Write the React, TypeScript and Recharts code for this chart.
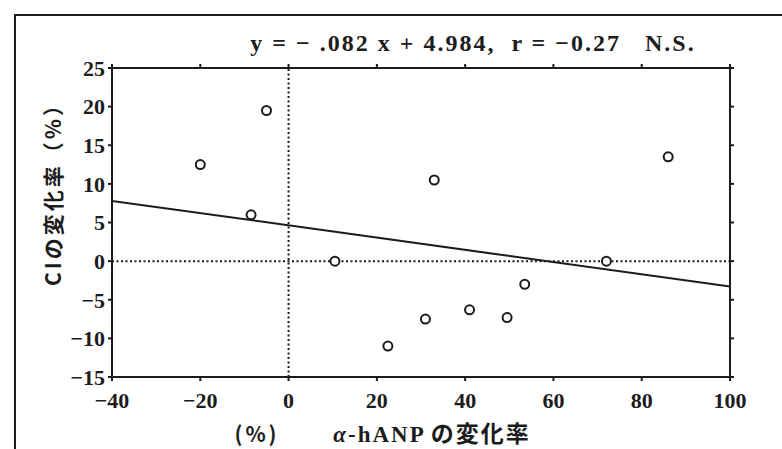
import {
  ReferenceLine,
  Scatter,
  ScatterChart,
  XAxis,
  YAxis,
} from "recharts"

// α-hANP change (%) vs CI change (%)
const anpChange = [-20, -5, -8.5, 10.5, 22.5, 31, 33, 41, 49.5, 53.5, 72, 86]
const ciChange = [12.5, 19.5, 6, 0, -11, -7.5, 10.5, -6.3, -7.3, -3, 0, 13.5]

const xTicks = [-40, -20, 0, 20, 40, 60, 80, 100]
const yTicks = [-15, -10, -5, 0, 5, 10, 15, 20, 25]

// regression line end points as drawn
const fitX = [-40, 100]
const fitY = [7.8, -3.3]

const points = anpChange.map((x, i) => ({ x, y: ciChange[i] }))
const fitLine = fitX.map((x, i) => ({ x, y: fitY[i] }))

const INK = "#1c1c1c"
const NUM_FONT = "'Liberation Serif', 'DejaVu Serif', serif"
const JP_FONT = "'Noto Sans CJK JP', 'Liberation Serif', serif"

function fmt(v: number) {
  return v < 0 ? `\u2212${Math.abs(v)}` : `${v}`
}

function Ring(props: any) {
  const { cx, cy } = props
  if (cx == null || cy == null) return null
  return <circle cx={cx} cy={cy} r={4.5} fill="#fff" stroke={INK} strokeWidth={2} />
}

function NoDot() {
  return null
}

function BlankTick() {
  return <g />
}

function XTitle() {
  return (
    <g>
      <text x={257} y={442} textAnchor="middle" fontFamily={JP_FONT} fontSize={21} fontWeight={700} fill={INK} letterSpacing={3}>
        (%)
      </text>
      <text x={432} y={442} textAnchor="middle" fontFamily={JP_FONT} fontSize={23} fontWeight={700} fill={INK} letterSpacing={2}>
        <tspan fontFamily={NUM_FONT} fontStyle="italic">α</tspan>
        <tspan fontFamily={NUM_FONT}>-hANP</tspan>
        <tspan dx={5}>の変化率</tspan>
      </text>
    </g>
  )
}

function YTitle() {
  return (
    <text
      x={52}
      y={189}
      transform="rotate(-90 52 189)"
      textAnchor="middle"
      dominantBaseline="central"
      fontFamily={JP_FONT}
      fontSize={21}
      fontWeight={700}
      fill={INK}
      letterSpacing={3}
    >
      CIの変化率（%）
    </text>
  )
}

export default function App() {
  const tickStyle = { fontSize: 22, fontWeight: 700, fill: INK, fontFamily: NUM_FONT }
  return (
    <div style={{ position: "relative", width: 782, height: 449, background: "#fff" }}>
      <style>{"body{margin:0}"}</style>
      {/* outer frame of the scanned figure */}
      <div
        style={{
          position: "absolute",
          left: 14,
          top: 14,
          width: 766,
          height: 435,
          borderTop: `2px solid ${INK}`,
          borderLeft: `2px solid ${INK}`,
          borderRight: "1px solid #bbb",
        }}
      />
      <div
        style={{
          position: "absolute",
          left: 0,
          top: 29,
          width: 946,
          textAlign: "center",
          fontFamily: NUM_FONT,
          fontWeight: 700,
          fontSize: 24,
          letterSpacing: 2,
          lineHeight: "28px",
          color: INK,
          whiteSpace: "pre",
        }}
      >
        {"y = \u2212 .082 x + 4.984,  r = \u22120.27   N.S."}
      </div>
      <div style={{ position: "absolute", left: 0, top: 0 }}>
        <ScatterChart
          width={782}
          height={449}
          margin={{ top: 56, right: 40, bottom: 42, left: 52 }}
        >
          <XAxis
            dataKey="x"
            type="number"
            domain={[-40, 100]}
            ticks={xTicks}
            tickFormatter={fmt}
            height={30}
            tickSize={4}
            tickMargin={11}
            stroke={INK}
            strokeWidth={2}
            tick={tickStyle}
            allowDataOverflow
          />
          <XAxis
            xAxisId="top"
            dataKey="x"
            orientation="top"
            type="number"
            domain={[-40, 100]}
            ticks={xTicks}
            height={12}
            tickSize={4}
            tick={<BlankTick />}
            stroke={INK}
            strokeWidth={2}
            allowDataOverflow
          />
          <YAxis
            dataKey="y"
            type="number"
            domain={[-15, 25]}
            ticks={yTicks}
            tickFormatter={fmt}
            width={60}
            tickSize={4}
            tickMargin={3}
            stroke={INK}
            strokeWidth={2}
            tick={tickStyle}
            allowDataOverflow
          />
          <YAxis
            yAxisId="right"
            dataKey="y"
            orientation="right"
            type="number"
            domain={[-15, 25]}
            ticks={yTicks}
            width={12}
            tickSize={4}
            tick={<BlankTick />}
            stroke={INK}
            strokeWidth={2}
            allowDataOverflow
          />
          <ReferenceLine x={0} stroke={INK} strokeWidth={2} strokeDasharray="2 2.5" />
          <ReferenceLine y={0} stroke={INK} strokeWidth={2} strokeDasharray="2 2.5" />
          {/* regression line, drawn on the mirrored top/right axes */}
          <Scatter
            xAxisId="top"
            yAxisId="right"
            data={fitLine}
            line={{ stroke: INK, strokeWidth: 2 }}
            shape={<NoDot />}
            isAnimationActive={false}
          />
          <Scatter data={points} shape={<Ring />} isAnimationActive={false} />
          <XTitle />
          <YTitle />
        </ScatterChart>
      </div>
    </div>
  )
}
